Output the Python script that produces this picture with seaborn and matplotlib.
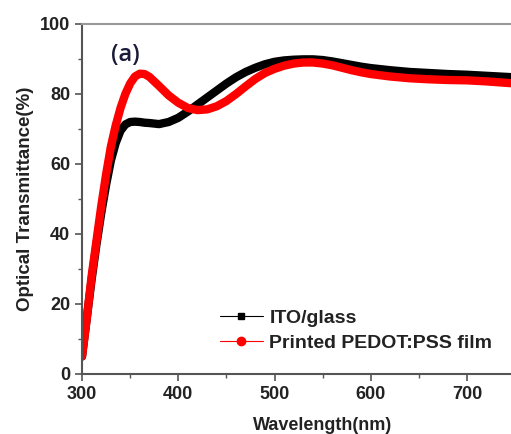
import matplotlib
matplotlib.use("Agg")
import matplotlib.pyplot as plt
import seaborn as sns
import pandas as pd
from matplotlib.lines import Line2D
from matplotlib.ticker import MultipleLocator

wavelength = [300, 305, 310, 315, 320, 325, 330, 335, 340, 345, 350, 355, 360, 365, 370,
              380, 390, 400, 410, 420, 430, 440, 450, 460, 470, 480, 490, 500, 510, 520,
              530, 540, 550, 560, 570, 580, 590, 600, 620, 640, 660, 680, 700, 720, 740, 760]
ito_glass = [5, 16, 27, 37, 46, 54, 61, 66, 69.5, 71.3, 72, 72.1, 72, 71.8, 71.7,
             71.4, 72, 73.2, 75, 77, 79, 81, 83, 84.8, 86.3, 87.5, 88.5, 89.2, 89.6, 89.8,
             89.9, 89.9, 89.7, 89.3, 88.8, 88.3, 87.8, 87.4, 86.8, 86.3, 86, 85.7, 85.5, 85.2, 84.9, 84.6]
pedot_film = [5, 16, 28, 38, 48, 57, 65, 71, 76, 80, 83, 85, 85.8, 85.7, 84.9,
              82.3, 79.6, 77.5, 76, 75.4, 75.6, 76.5, 78, 80, 82.2, 84.3, 86, 87.2, 88.1, 88.7,
              89, 89, 88.7, 88.2, 87.5, 86.8, 86.2, 85.7, 85, 84.5, 84.2, 84, 83.9, 83.6, 83.2, 82.8]

labels = ["ITO/glass", "Printed PEDOT:PSS film"]
colors = ["black", "#ff0000"]
x_ticks = [300, 400, 500, 600, 700]

df = pd.DataFrame({
    "wl": wavelength * 2,
    "T": ito_glass + pedot_film,
    "sample": [labels[0]] * len(wavelength) + [labels[1]] * len(wavelength),
})

sns.set_style("ticks")
plt.rcParams["font.family"] = ["Liberation Sans", "DejaVu Sans"]

fig = plt.figure(figsize=(5.11, 4.34), dpi=100)
ax = fig.add_axes([82 / 511, 60 / 434, 481.5 / 511, 350 / 434])

sns.lineplot(data=df, x="wl", y="T", hue="sample", palette=colors, linewidth=6,
             legend=False, ax=ax, solid_capstyle="round")

ax.set_xlim(300, 800)
ax.set_ylim(0, 100)
ax.set_xticks(x_ticks)
ax.xaxis.set_minor_locator(MultipleLocator(50))
ax.yaxis.set_major_locator(MultipleLocator(20))
ax.yaxis.set_minor_locator(MultipleLocator(10))
ax.tick_params(which="major", direction="out", length=5, width=1.2, color="#555555",
               labelsize=13, labelcolor="#222222")
ax.tick_params(which="minor", direction="out", length=3, width=1.0, color="#555555")
for lab in ax.get_xticklabels() + ax.get_yticklabels():
    lab.set_fontweight("bold")

for side in ["left", "bottom"]:
    ax.spines[side].set_color("#555555")
    ax.spines[side].set_linewidth(1.5)
ax.spines["top"].set_color("#999999")
ax.spines["top"].set_linewidth(1.5)
ax.spines["right"].set_visible(False)

ax.set_xlabel("Wavelength(nm)", fontsize=13, fontweight="bold", labelpad=10,
              color="#222222")
ax.set_ylabel("Optical Transmittance(%)", fontsize=13.5, fontweight="bold", labelpad=4,
              color="#222222")

ax.text(0.06, 0.893, "(a)", transform=ax.transAxes, fontsize=17, color="#1a1a3a",
        fontweight="semibold", family=["Open Sans", "DejaVu Sans"])

handles = [
    Line2D([], [], color=colors[0], marker="s", markersize=5, linewidth=0.8),
    Line2D([], [], color=colors[1], marker="o", markersize=6, linewidth=0.8),
]
leg = ax.legend(handles, labels, loc="lower left", bbox_to_anchor=(0.25, 0.012),
                frameon=False, handlelength=2.2, handletextpad=0.35, labelspacing=0.4,
                prop={"weight": "bold", "size": 14})
for t in leg.get_texts():
    t.set_color("#222222")

fig.savefig("out.png", dpi=100)
